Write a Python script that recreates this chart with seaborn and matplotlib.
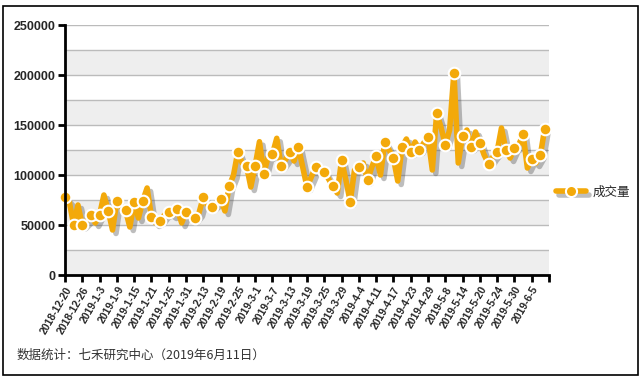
import numpy as np
import pandas as pd
import seaborn as sns
import matplotlib.pyplot as plt
import matplotlib.patheffects as pe
from matplotlib.lines import Line2D
from matplotlib.patches import Rectangle

# daily volume, one value per trading day 2018-12-20 .. 2019-6-11
volume = [
    77700, 73000, 50300, 70000, 49700, 54000, 59700, 52000, 60300, 80000,
    64300, 45000, 74300, 68000, 65000, 48000, 73000, 57000, 74300, 87000,
    58300, 52000, 54300, 60000, 63000, 60000, 65700, 52000, 63000, 58000,
    56700, 62000, 77700, 70000, 68300, 72000, 76300, 64000, 89000, 100000,
    123300, 112000, 109300, 88000, 109300, 133300, 101500, 118000, 120800, 136700,
    109300, 115000, 123300, 114000, 128300, 108000, 88000, 98000, 108500, 106000,
    103500, 96000, 88700, 82000, 114800, 95000, 73300, 105000, 108300, 112000,
    94800, 108000, 118800, 100000, 133000, 125000, 116800, 94000, 128200, 136000,
    122700, 133000, 125000, 132000, 137800, 105000, 161700, 148000, 130200, 145000,
    202500, 112000, 139300, 145000, 127800, 143000, 132000, 120000, 111300, 118000,
    123500, 147000, 125500, 117000, 126800, 130000, 140800, 107000, 116000, 112000,
    119700, 146300,
]
tick_labels = [
    '2018-12-20', '2018-12-26', '2019-1-3', '2019-1-9', '2019-1-15', '2019-1-21',
    '2019-1-25', '2019-1-31', '2019-2-13', '2019-2-19', '2019-2-25', '2019-3-1',
    '2019-3-7', '2019-3-13', '2019-3-19', '2019-3-25', '2019-3-29', '2019-4-4',
    '2019-4-11', '2019-4-17', '2019-4-23', '2019-4-29', '2019-5-8', '2019-5-14',
    '2019-5-20', '2019-5-24', '2019-5-30', '2019-6-5',
]
y_ticks = [0, 50000, 100000, 150000, 200000, 250000]
series_name = '成交量'
source_note = '数据统计：七禾研究中心（2019年6月11日）'

df = pd.DataFrame({'idx': np.arange(len(volume)), 'vol': volume})
# bullets on every other day plus the last one
marks = list(range(0, len(volume), 2)) + [len(volume) - 1]
df_marks = df.iloc[marks]

sns.set_theme(style='white')
plt.rcParams['font.family'] = ['Liberation Sans', 'Noto Sans CJK SC', 'DejaVu Sans']

orange = '#f3a90a'
shadow = [pe.SimpleLineShadow(offset=(2.5, -2.5), shadow_color='#444444', alpha=0.35), pe.Normal()]

fig = plt.figure(figsize=(6.43, 3.79), dpi=100)
ax = fig.add_axes([65 / 643, 1 - 275 / 379, (549 - 65) / 643, 250 / 379])

# alternating bands + grid
for lo in range(0, 250000, 50000):
    ax.axhspan(lo, lo + 25000, color='#eeeeee', lw=0, zorder=0)
for yy in range(25000, 250001, 25000):
    ax.axhline(yy, color='#bbbbbb', lw=1, zorder=1)

sns.lineplot(data=df, x='idx', y='vol', ax=ax, color=orange, lw=4,
             clip_on=False, zorder=3, path_effects=shadow)
sns.scatterplot(data=df_marks, x='idx', y='vol', ax=ax, color=orange, s=70,
                edgecolor='white', linewidth=1.5, clip_on=False, zorder=4)

ax.set_xlim(0, 112)
ax.set_ylim(0, 250000)
ax.set_xticks(range(0, 113, 4))
ax.set_xticklabels(tick_labels + [''], rotation=60, ha='right',
                   rotation_mode='anchor', fontsize=7.5, fontweight='bold')
ax.set_yticks(y_ticks)
ax.set_yticklabels([str(v) for v in y_ticks], fontsize=9, fontweight='bold')
ax.set_xlabel('')
ax.set_ylabel('')
ax.tick_params(axis='both', direction='out', length=5, width=2, color='black',
               pad=2, bottom=True, left=True)
for s in ['top', 'right']:
    ax.spines[s].set_visible(False)
for s in ['left', 'bottom']:
    ax.spines[s].set_color('black')
    ax.spines[s].set_linewidth(2)
    ax.spines[s].set_zorder(5)

line_proxy = Line2D([], [], color=orange, lw=4, path_effects=shadow)
dot_proxy = Line2D([], [], ls='none', marker='o', markersize=8,
                   markerfacecolor=orange, markeredgecolor='white',
                   markeredgewidth=1.5)
fig.legend(handles=[(line_proxy, dot_proxy)], labels=[series_name], loc='center left',
           bbox_to_anchor=(556 / 643, 1 - 192 / 379), frameon=False,
           borderaxespad=0, borderpad=0, handlelength=2.4, handletextpad=0.5,
           numpoints=1, prop={'family': ['Noto Sans CJK SC', 'DejaVu Sans'], 'size': 9})

fig.text(17 / 643, 1 - 355 / 379, source_note, fontsize=9, color='#333333',
         family=['Noto Sans CJK SC', 'DejaVu Sans'], va='center')

fig.add_artist(Rectangle((3 / 643, 4 / 379), 635 / 643, 369 / 379,
                         transform=fig.transFigure, fill=False, ec='black', lw=1.2))

fig.savefig('out.png', dpi=100)
